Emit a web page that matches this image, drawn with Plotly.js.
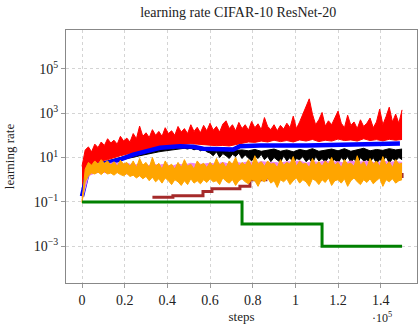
<!DOCTYPE html>
<html>
<head>
<meta charset="utf-8">
<script src="https://cdn.plot.ly/plotly-3.0.1.min.js"></script>
<style>
  body { margin: 0; background: #fff; }
  #lrPlot { width: 418px; height: 328px; }
</style>
</head>
<body>
<div id="lrPlot"></div>
<script>
// noisy runs are drawn as bands: a jagged edge every 1500 steps, a rougher edge every 3000
var steps = [];
for (var i = 0; i <= 100; i++) { steps.push(i * 1500); }
var coarseSteps = [];
for (var j = 0; j <= 50; j++) { coarseSteps.push(j * 3000); }

// red run (top edge fine, bottom edge coarse)
var redHigh = [4, 22, 30, 18, 40, 28, 50, 35, 70, 45,
    60, 40, 90, 55, 75, 50, 120, 70, 260, 90,
    130, 80, 180, 100, 150, 90, 220, 120, 160, 100,
    250, 140, 200, 120, 300, 150, 230, 130, 280, 160,
    350, 170, 250, 140, 320, 450, 200, 300, 160, 380,
    200, 300, 170, 420, 220, 330, 180, 630, 250, 180,
    300, 160, 280, 190, 350, 220, 730, 200, 400, 880,
    2000, 4400, 900, 300, 500, 1070, 260, 450, 300, 600,
    1230, 350, 220, 800, 280, 400, 200, 500, 250, 350,
    600, 220, 400, 1500, 300, 700, 1850, 400, 900, 350,
    1400];
var redLow = [0.4, 3, 5, 7, 8, 10, 12, 14, 16, 19,
    22, 25, 28, 32, 35, 38, 40, 42, 40, 38,
    36, 34, 35, 33, 38, 45, 50, 48, 55, 50,
    60, 52, 58, 50, 62, 55, 65, 52, 60, 55,
    68, 58, 62, 55, 70, 58, 64, 56, 66, 60,
    65];

// black run (top edge coarse, bottom edge fine)
var blackHigh = [0.25, 2.5, 4.5, 6, 7, 8.5, 10, 12, 14, 17,
    20, 22, 24, 26, 27, 28, 27, 26, 24, 22,
    20, 19, 20, 18, 21, 22, 20, 23, 19, 22,
    24, 19, 22, 18, 23, 20, 25, 19, 22, 24,
    20, 25, 19, 22, 26, 20, 23, 21, 25, 22,
    24];
var blackLow = [0.2, 1.2, 2.2, 3, 3.8, 4.3, 4.8, 5.3, 5.8, 6.3,
    6.8, 7.2, 7.8, 8.3, 9, 9.5, 10, 11, 12, 13,
    14, 15, 16, 17, 18, 19, 20, 21, 22, 23,
    24, 25, 26, 24, 27, 22, 26, 20, 24, 18,
    16, 12, 18, 10, 15, 12, 9, 14, 11, 16,
    9, 13, 10, 7, 12, 9, 14, 8, 11, 6.5,
    10, 8, 6, 12, 7, 10, 5.5, 9, 8, 11,
    6.5, 9, 5.5, 11, 7, 9, 6, 10, 7, 8,
    5.5, 10, 7, 11, 6, 9, 5, 10, 7, 8,
    6, 10, 5.5, 8, 7, 11, 5.5, 9, 7, 10,
    8];

// violet run (both edges coarse, mostly under orange)
var violetHigh = [0.15, 3.5, 5, 5.5, 5, 6, 5, 5.5, 4.5, 5,
    4, 5, 4.5, 5, 4, 5, 4.5, 5.5, 5, 5,
    5.5, 5, 6, 5, 6, 5.5, 6.5, 5.5, 6.5, 6,
    6, 5.5, 6.5, 6, 7, 5.5, 6.5, 6, 7, 6,
    6.5, 5.5, 7, 6, 6.5, 6.5, 5.5, 7, 6, 6.5,
    6];
var violetLow = [0.12, 1.5, 2, 2.2, 2, 2.4, 2, 1.8, 1.6, 1.5,
    1.4, 1.3, 1.5, 1.2, 1.4, 1.3, 1.5, 1.2, 1.6, 1.4,
    1.5, 1.3, 1.6, 1.4, 1.7, 1.5, 1.6, 1.4, 1.7, 1.5,
    1.6, 1.4, 1.8, 1.5, 1.6, 1.4, 1.7, 1.5, 1.6, 1.4,
    1.8, 1.5, 1.7, 1.4, 1.6, 1.5, 1.8, 1.5, 1.6, 1.4,
    1.7];

// orange run (both edges fine)
var orangeHigh = [0.1, 3, 6, 4.5, 7, 5, 8, 5.5, 7, 4.5,
    6.5, 4, 7.5, 5, 6, 4, 7, 3.5, 9, 4.5,
    6, 3.5, 10, 4, 5.5, 3, 7, 4, 5, 3,
    6, 3.5, 8, 4, 5, 3, 7, 4.5, 5.5, 3.5,
    6, 4, 9, 4.5, 6, 3.5, 7, 5, 10, 4,
    6, 4.5, 8, 4, 12, 5, 6.5, 4, 7, 5,
    5.5, 3.5, 8, 4.5, 6, 5, 11, 4, 7, 5,
    5.5, 3.5, 9, 4.5, 6.5, 4, 7, 5, 10, 4.5,
    6, 3.5, 8, 5, 5.5, 4, 12, 4.5, 6.5, 3.5,
    9, 5, 7, 4, 11, 4.5, 6.5, 3.5, 8, 5,
    5.5];
var orangeLow = [0.09, 0.8, 1.5, 2, 1.8, 2.2, 1.7, 2.3, 1.8, 2,
    1.6, 2.1, 1.7, 1.5, 1.9, 1.4, 1.6, 1.2, 1.5, 1.1,
    1.4, 0.9, 1.3, 0.8, 1.1, 0.7, 1.2, 0.9, 0.6, 1.0,
    0.8, 0.55, 0.9, 0.6, 1.1, 0.7, 0.9, 0.65, 1.0, 0.75,
    1.1, 0.8, 0.9, 0.6, 1.2, 0.85, 0.7, 1.0, 0.55, 0.9,
    1.1, 0.8, 0.65, 1.0, 0.9, 0.5, 1.0, 0.8, 1.2, 0.7,
    0.9, 0.45, 1.0, 0.8, 1.1, 0.6, 0.9, 1.2, 0.7, 1.0,
    0.8, 0.5, 1.1, 0.9, 0.6, 1.0, 0.75, 1.2, 0.55, 0.9,
    1.0, 0.7, 1.1, 0.5, 0.9, 1.2, 0.8, 0.6, 1.0, 0.75,
    1.1, 0.65, 0.9, 1.2, 0.5, 1.0, 0.8, 1.1, 0.7, 0.9,
    1.0];

// smooth blue run
var blueSteps = [0, 2200, 3750, 6900, 13100, 17800, 24000, 30300, 36600, 45900,
    52200, 56800, 63100, 70900, 74000, 83400, 105300, 136400, 149000];
var blueLr = [0.18, 1.4, 2.9, 4.4, 6.1, 8.1, 13.6, 19.2, 27.4, 32.4,
    30.4, 24.7, 24.7, 22.9, 32.4, 34.7, 34.7, 38.5, 42.7];

// step schedules
var brownSteps = [33000, 42600, 56700, 60900, 74000, 78700, 86200, 99000, 150000];
var brownLr = [0.16, 0.19, 0.29, 0.39, 0.51, 1.0, 1.26, 1.4, 2];

var greenSteps = [0, 75000, 112500, 150000];
var greenLr = [0.1, 0.01, 0.001, 0.001];

var xTicks = [0, 20000, 40000, 60000, 80000, 100000, 120000, 140000];
var xTickText = ["0", "0.2", "0.4", "0.6", "0.8", "1", "1.2", "1.4"];
var yTicks = [1e-3, 1e-1, 1e1, 1e3, 1e5];
var yTickText = ["10<sup>−3</sup>", "10<sup>−1</sup>", "10<sup>1</sup>", "10<sup>3</sup>", "10<sup>5</sup>"];

// lower edge trace + upper edge trace filled down to it
function band(xLow, yLow, xHigh, yHigh, color) {
    return [
        {x: xLow, y: yLow, mode: "lines", line: {color: color, width: 1}},
        {x: xHigh, y: yHigh, mode: "lines", line: {color: color, width: 1},
            fill: "tonexty", fillcolor: color}
    ];
}

var traces = []
    .concat(band(coarseSteps, redLow, steps, redHigh, "#ff0000"))
    .concat(band(steps, blackLow, coarseSteps, blackHigh, "#000000"))
    .concat([{x: blueSteps, y: blueLr, mode: "lines", line: {color: "#0000ff", width: 4.5}}])
    .concat(band(coarseSteps, violetLow, coarseSteps, violetHigh, "#ee82ee"))
    .concat([{x: brownSteps, y: brownLr, mode: "lines", line: {color: "#a52a2a", width: 3, shape: "hv"}}])
    .concat(band(steps, orangeLow, steps, orangeHigh, "#ffa500"))
    .concat([{x: greenSteps, y: greenLr, mode: "lines", line: {color: "#008000", width: 3, shape: "hv"}}]);

var layout = {
    width: 418,
    height: 328,
    margin: {l: 66, r: 1, t: 30, b: 45},
    showlegend: false,
    paper_bgcolor: "#ffffff",
    plot_bgcolor: "#ffffff",
    font: {family: "'Liberation Serif', 'DejaVu Serif', serif", size: 14, color: "#222"},
    title: {text: "learning rate CIFAR-10 ResNet-20", x: 0.57, xanchor: "center", y: 0.962, yanchor: "middle",
        font: {size: 14}},
    xaxis: {
        range: [-7500, 157000],
        tickvals: xTicks,
        ticktext: xTickText,
        ticks: "outside", ticklen: 4, tickcolor: "#999",
        showgrid: true, gridcolor: "#d4d4d4", griddash: "dot",
        zeroline: false,
        showline: true, linecolor: "#888", mirror: true,
        title: {text: "steps", standoff: 5, font: {size: 13}}
    },
    yaxis: {
        type: "log",
        range: [-4.655, 6.745],
        tickvals: yTicks,
        ticktext: yTickText,
        ticks: "outside", ticklen: 4, tickcolor: "#999",
        showgrid: true, gridcolor: "#d4d4d4", griddash: "dot",
        zeroline: false,
        showline: true, linecolor: "#888", mirror: true,
        title: {text: "learning rate", standoff: 16, font: {size: 13}}
    },
    annotations: [
        {text: "·10<sup>5</sup>", xref: "paper", yref: "paper", x: 0.90, y: -0.172,
            xanchor: "center", yanchor: "bottom", showarrow: false, font: {size: 12}}
    ]
};

Plotly.newPlot("lrPlot", traces, layout, {staticPlot: true, displayModeBar: false});
</script>
</body>
</html>
